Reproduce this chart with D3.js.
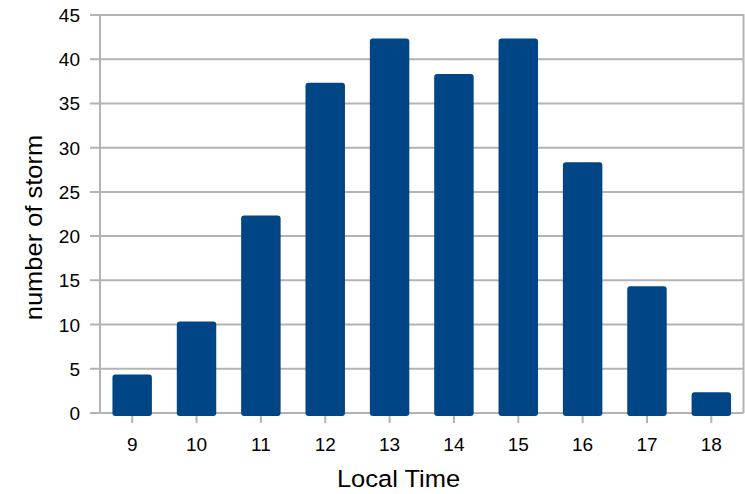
<!DOCTYPE html>
<html>
<head>
<meta charset="utf-8">
<script src="https://cdn.jsdelivr.net/npm/d3@7"></script>
<style>
html,body{margin:0;padding:0;background:#fff;}
svg{display:block;}
text{font-family:"Liberation Sans",Arial,sans-serif;fill:#000;}
</style>
</head>
<body>
<svg id="chart" width="745" height="494"></svg>
<script>
const categories = ["9","10","11","12","13","14","15","16","17","18"];
const values = [4, 10, 22, 37, 42, 38, 42, 28, 14, 2];
const yTicks = [0, 5, 10, 15, 20, 25, 30, 35, 40, 45];
const xTitle = "Local Time";
const yTitle = "number of storm";

const svg = d3.select("#chart");
const pLeft = 100, pRight = 743.5, pTop = 15, pBottom = 413;
const gridColor = "#b3b3b3";
const barColor = "#004586";

const x = d3.scaleBand().domain(categories).range([pLeft, pRight]).padding(0);
const y = d3.scaleLinear().domain([0, 45]).range([pBottom, pTop]);

// gridlines
svg.append("g").selectAll("line").data(yTicks).join("line")
  .attr("x1", pLeft - 10).attr("x2", pRight)
  .attr("y1", d => y(d)).attr("y2", d => y(d))
  .attr("stroke", gridColor).attr("stroke-width", 2);

// left axis line and right border
svg.append("line").attr("x1", pLeft).attr("x2", pLeft).attr("y1", pTop).attr("y2", pBottom)
  .attr("stroke", gridColor).attr("stroke-width", 2);
svg.append("line").attr("x1", pRight).attr("x2", pRight).attr("y1", pTop - 1).attr("y2", pBottom)
  .attr("stroke", gridColor).attr("stroke-width", 2);

// x ticks
svg.append("g").selectAll("line").data(categories).join("line")
  .attr("x1", d => x(d) + x.bandwidth() / 2).attr("x2", d => x(d) + x.bandwidth() / 2)
  .attr("y1", pBottom).attr("y2", pBottom + 10)
  .attr("stroke", gridColor).attr("stroke-width", 2);

// bars
const bw = x.bandwidth() * 0.52;
svg.append("g").selectAll("rect").data(values).join("rect")
  .attr("x", (d, i) => x(categories[i]) + x.bandwidth() / 2 - bw / 2)
  .attr("width", bw)
  .attr("y", d => y(d))
  .attr("height", d => y(0) - y(d))
  .attr("fill", barColor)
  .attr("stroke", barColor)
  .attr("stroke-width", 6)
  .attr("stroke-linejoin", "round");

// y tick labels
svg.append("g").selectAll("text").data(yTicks).join("text")
  .attr("x", 80).attr("y", d => y(d) + 7)
  .attr("text-anchor", "end")
  .attr("font-size", 19)
  .text(d => d);

// x tick labels
svg.append("g").selectAll("text").data(categories).join("text")
  .attr("x", d => x(d) + x.bandwidth() / 2).attr("y", 451)
  .attr("text-anchor", "middle")
  .attr("font-size", 19)
  .text(d => d);

// axis titles
svg.append("text")
  .attr("transform", "translate(398.5,487) scale(1.04,1)")
  .attr("text-anchor", "middle")
  .attr("font-size", 24.5)
  .text(xTitle);

svg.append("text")
  .attr("transform", "translate(42,227.5) rotate(-90) scale(1.04,1)")
  .attr("text-anchor", "middle")
  .attr("font-size", 24.5)
  .text(yTitle);
</script>
</body>
</html>
